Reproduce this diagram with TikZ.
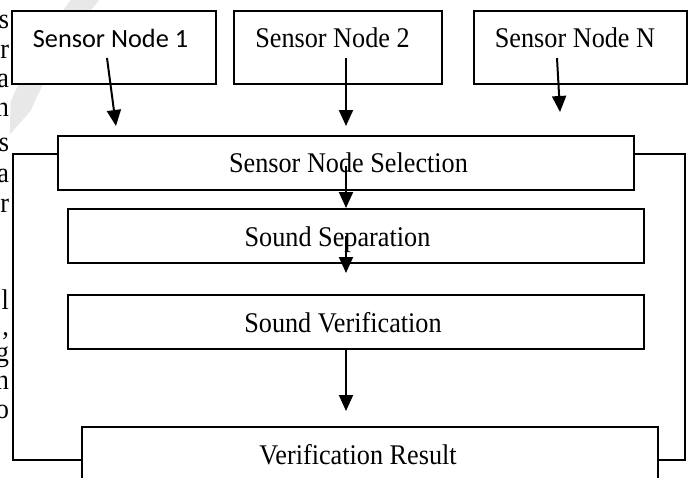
\documentclass[tikz,border=0pt]{standalone}
\usepackage{fontspec}
\usepackage{graphicx}
\setmainfont{Liberation Serif}
\newfontfamily\calfont{Carlito}
\usetikzlibrary{arrows.meta,calc}
\newcommand\tmtext[1]{\scalebox{0.92}[1]{\fontsize{28.5}{30}\selectfont #1}}
\newcommand\caltext[1]{{\calfont\fontsize{26.3}{30}\selectfont #1}}
\tikzset{
  box/.style={draw=black, line width=1.4pt, fill=white, rectangle, inner sep=0pt, outer sep=0pt},
  lbl/.style={inner sep=0pt, outer sep=0pt, anchor=base},
  frag/.style={inner sep=0pt, outer sep=0pt, anchor=base east},
  flow/.style={line width=2pt, -{Triangle[length=16pt,width=14pt]}},
  fb/.style={line width=1.4pt, line join=miter}
}
\begin{document}
\begin{tikzpicture}[x=1pt,y=-1pt]
\useasboundingbox (0,0) rectangle (688,477);
\fill[white] (0,0) rectangle (688,477);
% watermark arc
\coordinate (wc) at (422.5,276.8);
\begin{scope}
\clip (0,0) rectangle (688,477);
\fill[gray!18] (wc) ++(224:447.5) arc[start angle=224, end angle=203, radius=447.5]
  -- ($(wc)+(199:436.5)$) -- ($(wc)+(203:425.5)$)
  arc[start angle=203, end angle=224, radius=425.5] -- cycle;
\end{scope}
% text fragments at left edge
\node[frag] (f1) at (9,28) {\tmtext{s}};
\node[frag] (f2) at (9,58) {\tmtext{r}};
\node[frag] (f3) at (9,87) {\tmtext{a}};
\node[frag] (f4) at (9,116) {\tmtext{n}};
\node[frag] (f5) at (9,151) {\tmtext{s}};
\node[frag] (f6) at (9,182) {\tmtext{a}};
\node[frag] (f7) at (9,212) {\tmtext{r}};
\node[frag] (f8) at (9,309) {\tmtext{l}};
\node[frag] (f9) at (9,335) {\tmtext{,}};
\node[frag] (f10) at (9,361) {\tmtext{g}};
\node[frag] (f11) at (9,389) {\tmtext{n}};
\node[frag] (f12) at (9,418) {\tmtext{o}};
% sensor nodes
\node[box, minimum width=204pt, minimum height=73pt] (sn1) at (114,47.5) {};
\node[box, minimum width=208pt, minimum height=73pt] (sn2) at (338,47.5) {};
\node[box, minimum width=213pt, minimum height=73pt] (snn) at (580.5,47.5) {};
\node[lbl] (t1) at (110.5,47) {\caltext{Sensor Node 1}};
\node[lbl] (t2) at (332.5,47) {\tmtext{Sensor Node 2}};
\node[lbl] (t3) at (575,47) {\tmtext{Sensor Node N}};
% processing boxes
\node[box, minimum width=576pt, minimum height=54pt] (sns) at (346,163) {};
\node[box, minimum width=576pt, minimum height=54pt] (ss) at (356,236) {};
\node[box, minimum width=576pt, minimum height=54pt] (sv) at (356,322) {};
\node[box, minimum width=576pt, minimum height=100pt] (vr) at (370,477) {};
\node[lbl] (t4) at (348.5,172) {\tmtext{Sensor Node Selection}};
\node[lbl] (t5) at (337.5,246) {\tmtext{Sound Separation}};
\node[lbl] (t6) at (343,332) {\tmtext{Sound Verification}};
\node[lbl] (t7) at (358,464) {\tmtext{Verification Result}};
% arrow end points
\coordinate (a1s) at (107,58);
\coordinate (a1e) at (116,126);
\coordinate (a2s) at (346,58);
\coordinate (a2e) at (346,126);
\coordinate (a3s) at (557,58);
\coordinate (a3e) at (560,112);
\coordinate (a4s) at (346,166);
\coordinate (a4e) at (346,208);
\coordinate (a5s) at (346,236);
\coordinate (a5e) at (346,273);
\coordinate (a6e) at (346,411);
\draw[flow] (a1s) -- (a1e);
\draw[flow] (a2s) -- (a2e);
\draw[flow] (a3s) -- (a3e);
\draw[flow] (a4s) -- (a4e);
\draw[flow] (a5s) -- (a5e);
\draw[flow] (sv.south -| a6e) -- (a6e);
% feedback lines
\coordinate (fl1) at (13,154);
\coordinate (fl2) at (13,460);
\coordinate (fr1) at (685,154);
\coordinate (fr2) at (685,460);
\draw[fb] (sns.west |- fl1) -- (fl1) -- (fl2) -- (vr.west |- fl2);
\draw[fb] (sns.east |- fr1) -- (fr1) -- (fr2) -- (vr.east |- fr2);
\end{tikzpicture}
\end{document}
